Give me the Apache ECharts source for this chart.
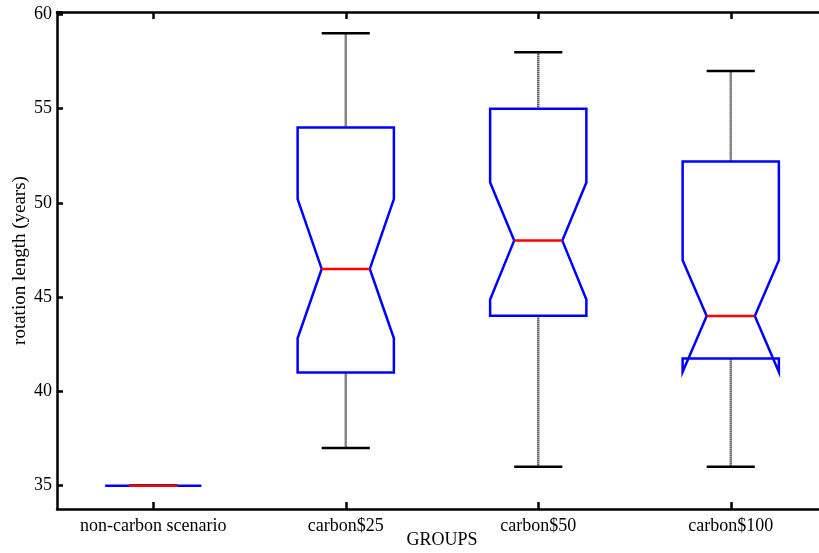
<!DOCTYPE html>
<html>
<head>
<meta charset="utf-8">
<script src="https://cdn.jsdelivr.net/npm/echarts@6/dist/echarts.min.js"></script>
<style>html,body{margin:0;padding:0;background:#fff;}#c{width:819px;height:553px;}</style>
</head>
<body>
<div id="c"></div>
<script>
var categories = ['non-carbon scenario', 'carbon$25', 'carbon$50', 'carbon$100'];
var lowerWhisker = [35, 37, 36, 36];
var q1 = [35, 41, 44.02, 41.74];
var notchLow = [35, 42.82, 44.87, 41.03];
var median = [35, 46.5, 48, 44];
var notchHigh = [35, 50.2, 51.08, 46.96];
var q3 = [35, 54, 55, 52.2];
var upperWhisker = [35, 59, 58, 57];
var yTicks = [35, 40, 45, 50, 55, 60];

var data = categories.map(function (c, i) {
  return [i, lowerWhisker[i], q1[i], notchLow[i], median[i], notchHigh[i], q3[i], upperWhisker[i]];
});

var FONT = '"Liberation Serif", "Times New Roman", serif';

function renderItem(params, api) {
  var idx = api.value(0);
  var band = api.size([1, 0])[0];
  var w = band * 0.25, nw = band * 0.125, cw = band * 0.125;
  function P(v) { return api.coord([idx, v]); }
  var cx = P(api.value(4))[0];
  var yLW = P(api.value(1))[1], yQ1 = P(api.value(2))[1], yNL = P(api.value(3))[1];
  var yMed = P(api.value(4))[1], yNH = P(api.value(5))[1], yQ3 = P(api.value(6))[1], yUW = P(api.value(7))[1];
  var whiskerStyle = { stroke: '#111', lineWidth: 2.5, lineDash: [1, 1] };
  var capStyle = { stroke: '#000', lineWidth: 2.5 };
  return {
    type: 'group',
    children: [
      { type: 'line', shape: { x1: cx, y1: yQ3, x2: cx, y2: yUW }, style: whiskerStyle },
      { type: 'line', shape: { x1: cx, y1: yQ1, x2: cx, y2: yLW }, style: whiskerStyle },
      { type: 'line', shape: { x1: cx - cw, y1: yUW, x2: cx + cw, y2: yUW }, style: capStyle },
      { type: 'line', shape: { x1: cx - cw, y1: yLW, x2: cx + cw, y2: yLW }, style: capStyle },
      { type: 'polygon', shape: { points: [
          [cx - w, yQ3], [cx + w, yQ3], [cx + w, yNH], [cx + nw, yMed], [cx + w, yNL],
          [cx + w, yQ1], [cx - w, yQ1], [cx - w, yNL], [cx - nw, yMed], [cx - w, yNH]
        ] }, style: { fill: 'none', stroke: '#0000ff', lineWidth: 2.5, lineJoin: 'miter' } },
      { type: 'line', shape: { x1: cx - nw, y1: yMed, x2: cx + nw, y2: yMed }, style: { stroke: '#ff0000', lineWidth: 2.5 } }
    ]
  };
}

var chart = echarts.init(document.getElementById('c'), null, { renderer: 'canvas' });
var axisLine = { show: true, onZero: false, lineStyle: { color: '#000', width: 2.5 } };
chart.setOption({
  animation: false,
  backgroundColor: '#fff',
  grid: { left: 57, top: 12, width: 770, height: 497, containLabel: false, outerBoundsMode: 'none' },
  xAxis: [{
    type: 'category', data: categories, position: 'bottom',
    boundaryGap: true,
    name: 'GROUPS', nameLocation: 'middle', nameGap: 22, nameMoveOverlap: false,
    nameTextStyle: { fontFamily: FONT, fontSize: 18, color: '#000' },
    axisLine: axisLine,
    axisTick: { show: true, inside: true, alignWithLabel: true, length: 7, lineStyle: { color: '#000', width: 2.5 } },
    axisLabel: { fontFamily: FONT, fontSize: 18, color: '#000', margin: 8, interval: 0 },
    splitLine: { show: false }
  }, {
    type: 'category', data: categories, position: 'top',
    boundaryGap: true,
    axisLine: axisLine,
    axisTick: { show: true, inside: true, alignWithLabel: true, length: 7, lineStyle: { color: '#000', width: 2.5 } },
    axisLabel: { show: false },
    splitLine: { show: false }
  }],
  yAxis: [{
    type: 'value', min: 33.76, max: 60.13, position: 'left',
    name: 'rotation length (years)', nameLocation: 'middle', nameGap: 27, nameMoveOverlap: false,
    nameTextStyle: { fontFamily: FONT, fontSize: 19, color: '#000' },
    axisLine: axisLine,
    axisTick: { show: true, inside: true, length: 6, lineStyle: { color: '#000', width: 2.5 } },
    axisLabel: { fontFamily: FONT, fontSize: 18, color: '#000', margin: 5, showMinLabel: false, showMaxLabel: true,
      formatter: function (v) { return yTicks.indexOf(v) >= 0 ? String(v) : ''; } },
    splitLine: { show: false }
  }, {
    type: 'value', min: 33.76, max: 60.13, position: 'right',
    axisLine: axisLine,
    axisTick: { show: true, inside: true, length: 6, lineStyle: { color: '#000', width: 2.5 } },
    axisLabel: { show: false },
    splitLine: { show: false }
  }],
  series: [{
    type: 'custom',
    renderItem: renderItem,
    xAxisIndex: 0, yAxisIndex: 0,
    encode: { x: 0, y: [1, 2, 3, 4, 5, 6, 7] },
    data: data,
    clip: false
  }]
});
</script>
</body>
</html>
